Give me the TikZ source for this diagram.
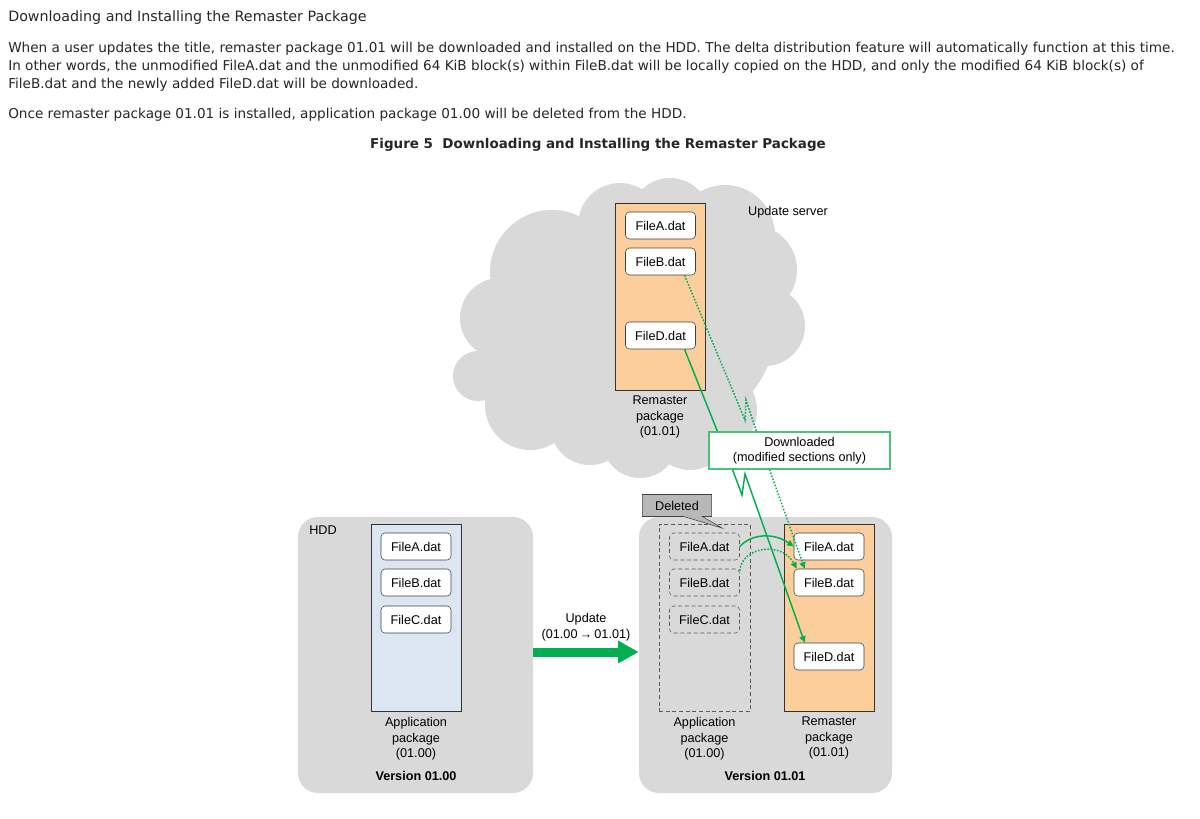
\documentclass[tikz,border=0pt]{standalone}
\usepackage{fontspec}
\setmainfont{Liberation Sans}
\newfontfamily\pagefont{DejaVu Sans}
\usepackage{xcolor}
\usetikzlibrary{arrows.meta,positioning,calc,shapes.callouts}
\definecolor{cloudgray}{RGB}{217,217,217}
\definecolor{peach}{RGB}{252,206,156}
\definecolor{paleblue}{RGB}{220,230,242}
\definecolor{dlgreen}{RGB}{0,176,80}
\definecolor{boxgreen}{RGB}{70,196,120}

\begin{document}
\begin{tikzpicture}[x=0.75pt, y=-0.75pt,
  file/.style={draw=black!75, fill=white, rounded corners=3pt, minimum width=52.5pt, minimum height=20.25pt, inner sep=0pt, font=\fontsize{9.5}{11}\selectfont},
  oldfile/.style={file, draw=black!65, fill=none, dashed, dash pattern=on 3pt off 2pt},
  pkg/.style={draw=black!80, fill=#1, minimum width=67.5pt, minimum height=140.5pt, inner sep=0pt},
  pkg/.default=peach,
  hdd/.style={fill=cloudgray, rounded corners=15pt, minimum height=207pt, inner sep=0pt},
  lbl/.style={align=center, font=\fontsize{9.5}{11.6}\selectfont, inner sep=0pt},
  para/.style={anchor=base west, inner sep=0pt, text=black!85, font=\pagefont\fontsize{10.2}{12}\selectfont},
  dl/.style={draw=dlgreen, line width=1.1pt},
  dlarr/.style={dl, -{Triangle[length=5pt, width=4.5pt]}},
  dot/.style={dash pattern=on 1.2pt off 1.2pt}]
\useasboundingbox (0,0) rectangle (1200,818);
\fill[white] (0,0) rectangle (1200,818);

% page text
\node[para, font=\pagefont\fontsize{10.7}{12}\selectfont] (head) at (8,21) {Downloading and Installing the Remaster Package};
\node[para] (p1) at (8,52) {When a user updates the title, remaster package 01.01 will be downloaded and installed on the HDD. The delta distribution feature will automatically function at this time.};
\node[para] (p2) at (8,70) {In other words, the unmodified FileA.dat and the unmodified 64 KiB block(s) within FileB.dat will be locally copied on the HDD, and only the modified 64 KiB block(s) of};
\node[para] (p3) at (8,88) {FileB.dat and the newly added FileD.dat will be downloaded.};
\node[para] (p4) at (8,118) {Once remaster package 01.01 is installed, application package 01.00 will be deleted from the HDD.};
\node[para, anchor=base, font=\pagefont\bfseries\fontsize{10.1}{12}\selectfont] (fig) at (598,148) {Figure 5\ \ Downloading and Installing the Remaster Package};

% cloud
\begin{scope}[fill=cloudgray]
\fill (630,330) ellipse [x radius=145, y radius=115];
\fill (478,376) circle (25);
\fill (500,318) circle (40);
\fill (552,272) circle (62);
\fill (620,225) circle (42);
\fill (670,218) circle (40);
\fill (725,235) circle (50);
\fill (752,270) circle (45);
\fill (765,326) circle (40);
\fill (715,410) circle (42);
\fill (690,430) circle (40);
\fill (640,440) circle (38);
\fill (590,425) circle (40);
\fill (530,405) circle (45);
\end{scope}
\node[lbl] (srv) at (788,212) {Update server};

% server package
\node[pkg] (spkg) at (660,296.5) {};
\node[file] (sA) at (660.5,225.5) {FileA.dat};
\node[file] (sB) at (660.5,261.5) {FileB.dat};
\node[file] (sD) at (660.5,335.5) {FileD.dat};
\node[lbl, below=4pt of spkg] (spkgl) {Remaster\\package\\(01.01)};

% HDD areas
\node[hdd, minimum width=176.25pt] (hddL) at (415.5,655) {};
\node[hdd, minimum width=189.75pt] (hddR) at (765.5,655) {};
\node[lbl, anchor=west] (hddl) at (309,530) {HDD};

% version 01.00
\node[pkg=paleblue] (apkg) at (416,618) {};
\node[file] (aA) at (416,546.5) {FileA.dat};
\node[file] (aB) at (416,582.5) {FileB.dat};
\node[file] (aC) at (416,619.5) {FileC.dat};
\node[lbl, below=4pt of apkg] (apkgl) {Application\\package\\(01.00)};
\node[lbl, font=\bfseries\fontsize{9.5}{11}\selectfont] (v0) at (416,776) {Version 01.00};

% version 01.01
\node[pkg=none, draw=black!65, dashed, dash pattern=on 3pt off 2pt, minimum width=68.25pt] (opkg) at (704.5,618) {};
\node[oldfile] (oA) at (704.5,546.5) {FileA.dat};
\node[oldfile] (oB) at (704.5,582.5) {FileB.dat};
\node[oldfile] (oC) at (704.5,619.5) {FileC.dat};
\node[lbl, below=4pt of opkg] (opkgl) {Application\\package\\(01.00)};
\node[pkg] (hpkg) at (829,617.5) {};
\node[file] (hA) at (829,546.5) {FileA.dat};
\node[file] (hB) at (829,582.5) {FileB.dat};
\node[file] (hD) at (829,656.5) {FileD.dat};
\node[lbl, below=4pt of hpkg] (hpkgl) {Remaster\\package\\(01.01)};
\node[lbl, font=\bfseries\fontsize{9.5}{11}\selectfont] (v1) at (765,776) {Version 01.01};

\node[rectangle callout, draw=black!75, fill=black!28, minimum width=52pt, minimum height=16.5pt, inner sep=0pt, font=\fontsize{9.5}{11}\selectfont, callout absolute pointer={(722,528)}, callout pointer width=14pt] (del) at (677,505.5) {Deleted};

% update arrow
\draw[draw=dlgreen, line width=6.75pt, -{Triangle[length=15.5pt, width=16pt]}] ([yshift=2.25pt]hddL.east) -- ([yshift=2.25pt]hddR.west);
\node[lbl] (upd) at (586,627) {Update\\(01.00\,\textrightarrow\,01.01)};

% download paths
\node[draw=boxgreen, fill=white, line width=0.8pt, minimum width=135.75pt, minimum height=27.75pt, inner sep=0pt, lbl] (dlbox) at (799.5,450.5) {Downloaded\\(modified sections only)};
\draw[dl] ($(sD.south)+(24,0)$) -- ($(dlbox.north west)+(9,0)$);
\draw[dlarr] ($(dlbox.south west)+(24,0)$) -- (742,495) -- (745,474) -- ($(hD.north west)+(11,0)$);
\draw[dl, dot] ($(sB.south)+(24,0)$) -- (745,420) -- (746,400) -- ($(dlbox.north west)+(48,0)$);
\draw[dlarr, dot] ($(dlbox.south west)+(61,0)$) -- ($(hB.north west)+(11,0)$);
\draw[dlarr] (oA.east) .. controls ($(oA.east)+(12,-13)$) and ($(hA.west)+(-20,-14)$) .. (hA.west);
\draw[dlarr, dot] ($(oB.north east)+(0,2)$) .. controls ($(oB.north east)+(2,-22)$) and ($(hB.north west)+(-12,-28)$) .. ($(hB.north west)+(3,0)$);
\end{tikzpicture}
\end{document}
